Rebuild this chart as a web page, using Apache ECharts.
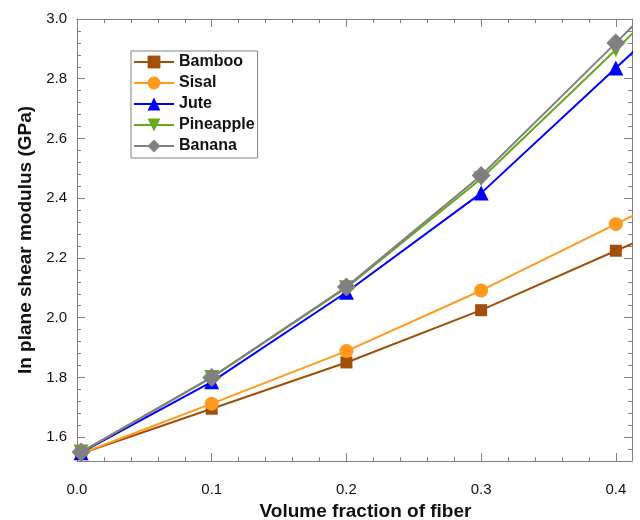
<!DOCTYPE html>
<html>
<head>
<meta charset="utf-8">
<script src="https://cdn.jsdelivr.net/npm/echarts@6/dist/echarts.min.js"></script>
<style>
html,body{margin:0;padding:0;background:#fff;}
#chart{width:640px;height:520px;}
</style>
</head>
<body>
<div id="chart"></div>
<script>
// ---- data ----
var xValues = [0.003, 0.1, 0.2, 0.3, 0.4, 0.5];
var bamboo    = [1.545, 1.695, 1.850, 2.025, 2.224, 2.420];
var sisal     = [1.545, 1.712, 1.888, 2.091, 2.313, 2.535];
var jute      = [1.548, 1.785, 2.085, 2.417, 2.836, 3.250];
var pineapple = [1.550, 1.800, 2.100, 2.465, 2.897, 3.340];
var banana    = [1.550, 1.800, 2.103, 2.476, 2.920, 3.370];
var seriesNames = ['Bamboo', 'Sisal', 'Jute', 'Pineapple', 'Banana'];

var xTicks = [0.0, 0.1, 0.2, 0.3, 0.4];
var xMinorTicks = [0.02,0.04,0.06,0.08,0.12,0.14,0.16,0.18,0.22,0.24,0.26,0.28,0.32,0.34,0.36,0.38];
var yTicks = [1.6, 1.8, 2.0, 2.2, 2.4, 2.6, 2.8, 3.0];
var yMinorTicks = [1.56,1.64,1.68,1.72,1.76,1.84,1.88,1.92,1.96,2.04,2.08,2.12,2.16,2.24,2.28,2.32,2.36,2.44,2.48,2.52,2.56,2.64,2.68,2.72,2.76,2.84,2.88,2.92,2.96];

var X_MIN = 0, X_MAX = 0.412, Y_MIN = 1.52, Y_MAX = 3.0;

function pairs(ys){ return ys.map(function(y,i){ return [xValues[i], y]; }); }

var axisGray = '#808080';
var font = 'Liberation Sans, Arial, sans-serif';

function xAx(pos, ticks, len, showLine, labels, extra){
  var a = {
    type:'value', gridIndex:0, position:pos, min:X_MIN, max:X_MAX,
    axisLine:{show:showLine, onZero:false, lineStyle:{color:axisGray, width:1}},
    axisTick:{show:true, inside:true, length:len, customValues:ticks, lineStyle:{color:axisGray, width:1}},
    axisLabel:{show:labels, customValues:ticks, formatter:function(v){return v.toFixed(1);},
      color:'#111', fontSize:15, fontFamily:font, margin:21},
    splitLine:{show:false}
  };
  if (extra) for (var k in extra) a[k]=extra[k];
  return a;
}
function yAx(pos, ticks, len, showLine, labels, extra){
  var a = {
    type:'value', gridIndex:0, position:pos, min:Y_MIN, max:Y_MAX,
    axisLine:{show:showLine, onZero:false, lineStyle:{color:axisGray, width:1}},
    axisTick:{show:true, inside:true, length:len, customValues:ticks, lineStyle:{color:axisGray, width:1}},
    axisLabel:{show:labels, customValues:ticks, formatter:function(v){return v.toFixed(1);},
      color:'#111', fontSize:15, fontFamily:font, margin:10},
    splitLine:{show:false}
  };
  if (extra) for (var k in extra) a[k]=extra[k];
  return a;
}

var colors = ['#A0500A', '#FF9A1E', '#0000FF', '#66A81E', '#808080'];
var symbols = ['rect', 'circle', 'triangle', 'triangle', 'diamond'];
var sizes = [12, 14, 15, 15, 19];
var rotates = [0, 0, 0, 180, 0];
var datasets = [bamboo, sisal, jute, pineapple, banana];

var series = seriesNames.map(function(n, i){
  return {
    name:n, type:'line', xAxisIndex:0, yAxisIndex:0,
    data:pairs(datasets[i]),
    symbol:symbols[i], symbolSize:sizes[i], symbolRotate:rotates[i],
    showAllSymbol:true, clip:true,
    lineStyle:{color:colors[i], width:2},
    itemStyle:{color:colors[i], borderWidth:0},
    emphasis:{disabled:true},
    animation:false, z:2+i
  };
});

var chart = echarts.init(document.getElementById('chart'), null, {renderer:'canvas'});
chart.setOption({
  animation:false,
  backgroundColor:'#fff',
  grid:{left:77, right:8, top:19, bottom:59, containLabel:false, outerBoundsMode:'none'},
  legend:{
    orient:'vertical', left:131, top:51,
    data:seriesNames,
    itemWidth:40, itemHeight:16, itemGap:5,
    padding:[3,3,4,2],
    backgroundColor:'#fff', borderColor:'#808080', borderWidth:1,
    textStyle:{fontSize:16, fontWeight:'bold', fontFamily:font, color:'#111'},
    selectedMode:false
  },
  xAxis:[
    xAx('bottom', xTicks, 8, true, true, {
      name:'Volume fraction of fiber', nameLocation:'middle', nameGap:36,
      nameTextStyle:{fontSize:19, fontWeight:'bold', fontFamily:font, color:'#111', padding:[0,0,0,22]}
    }),
    xAx('bottom', xMinorTicks, 4, false, false),
    xAx('top', xTicks, 8, true, false),
    xAx('top', xMinorTicks, 4, false, false)
  ],
  yAxis:[
    yAx('left', yTicks, 8, true, true, {
      name:'In plane shear modulus (GPa)', nameLocation:'middle', nameGap:33,
      nameTextStyle:{fontSize:19, fontWeight:'bold', fontFamily:font, color:'#111'}
    }),
    yAx('left', yMinorTicks, 4, false, false),
    yAx('right', yTicks, 8, true, false),
    yAx('right', yMinorTicks, 4, false, false)
  ],
  series:series
});
</script>
</body>
</html>
